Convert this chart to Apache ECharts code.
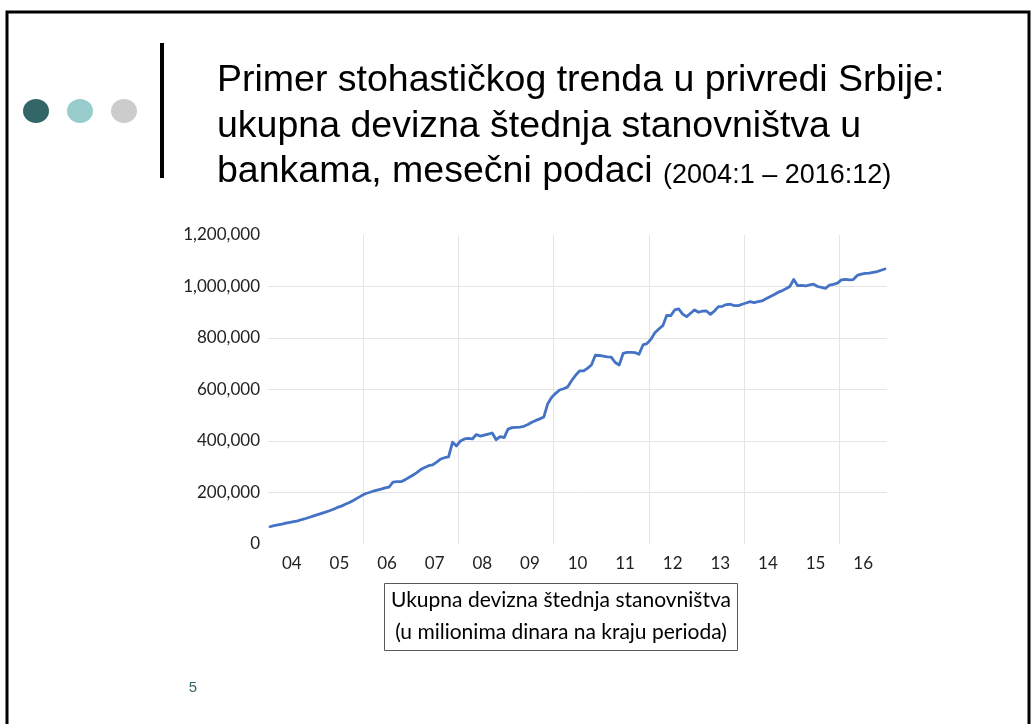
<!DOCTYPE html>
<html>
<head>
<meta charset="utf-8">
<script src="https://cdn.jsdelivr.net/npm/echarts@6/dist/echarts.min.js"></script>
<style>
  html, body { margin: 0; padding: 0; background: #fff; }
  #chart { width: 1034px; height: 724px; }
</style>
</head>
<body>
<div id="chart"></div>
<script>
  // godine na x osi
  var years = ['04', '05', '06', '07', '08', '09', '10', '11', '12', '13', '14', '15', '16'];

  // devizna stednja, mesecno, u hiljadama miliona dinara (ocitano sa grafika)
  var y2004 = [67, 71, 74, 77, 81, 84, 87, 90, 95, 99, 104, 109];
  var y2005 = [114, 119, 124, 129, 135, 142, 147, 154, 161, 169, 178, 187];
  var y2006 = [195, 200, 205, 209, 213, 218, 221, 240, 242, 242, 249, 258];
  var y2007 = [267, 277, 289, 297, 304, 307, 318, 330, 335, 338, 395, 381];
  var y2008 = [400, 408, 410, 408, 425, 419, 423, 427, 431, 405, 417, 413];
  var y2009 = [446, 452, 453, 454, 457, 464, 473, 480, 486, 493, 545, 570];
  var y2010 = [585, 598, 603, 610, 634, 655, 672, 672, 682, 695, 733, 732];
  var y2011 = [730, 727, 726, 705, 695, 740, 744, 744, 743, 737, 773, 778];
  var y2012 = [795, 820, 835, 848, 888, 887, 909, 913, 893, 883, 896, 909];
  var y2013 = [900, 904, 905, 892, 905, 922, 923, 930, 931, 926, 926, 931];
  var y2014 = [936, 941, 937, 941, 944, 952, 960, 968, 977, 983, 991, 1000];
  var y2015 = [1027, 1003, 1004, 1002, 1006, 1009, 1000, 997, 993, 1005, 1008, 1013];
  var y2016 = [1026, 1028, 1026, 1027, 1043, 1048, 1051, 1052, 1055, 1058, 1063, 1068];

  // podeoci y ose
  var yMin = 0, yMax = 1200000, yStep = 200000;

  var monthly = [].concat(y2004, y2005, y2006, y2007, y2008, y2009, y2010,
                          y2011, y2012, y2013, y2014, y2015, y2016);
  // tacka za svaki mesec u sredini meseca
  var seriesData = monthly.map(function (v, i) { return [i + 0.5, v * 1000]; });

  var titleFont = '37.5px "Liberation Sans"';
  // sirina prvog dela trece linije naslova, da bi zagrada stala odmah iza
  var ctx = document.createElement('canvas').getContext('2d');
  ctx.font = titleFont;
  var line3Width = ctx.measureText('bankama, mesečni podaci ').width;

  var myChart = echarts.init(document.getElementById('chart'));
  var option = {
    backgroundColor: '#fff',
    animation: false,
    grid: { left: 268, right: 147, top: 235, bottom: 180, containLabel: false },
    xAxis: [
      {
        type: 'value',
        min: 0,
        max: monthly.length,
        interval: 24,
        axisLine: { show: false },
        axisTick: { show: false },
        axisLabel: { show: false },
        splitLine: {
          show: true,
          showMinLine: false,
          showMaxLine: false,
          lineStyle: { color: '#e4e4e4', width: 1 }
        }
      },
      {
        type: 'category',
        data: years,
        position: 'bottom',
        boundaryGap: true,
        axisLine: { show: false },
        axisTick: { show: false },
        splitLine: { show: false },
        axisLabel: { margin: 11, fontFamily: 'Lato', fontSize: 17, color: '#222' }
      }
    ],
    yAxis: {
      type: 'value',
      min: yMin,
      max: yMax,
      interval: yStep,
      axisLine: { show: false },
      axisTick: { show: false },
      axisLabel: {
        margin: 8,
        fontFamily: 'Lato',
        fontSize: 17,
        color: '#222',
        formatter: function (v) { return v.toLocaleString('en-US'); }
      },
      splitLine: {
        show: true,
        showMinLine: false,
        showMaxLine: false,
        lineStyle: { color: '#e4e4e4', width: 1 }
      }
    },
    series: [
      {
        name: 'Ukupna devizna štednja stanovništva',
        type: 'line',
        xAxisIndex: 0,
        data: seriesData,
        symbol: 'none',
        lineStyle: { color: '#4472c4', width: 2.8, cap: 'round', join: 'round' }
      }
    ],
    graphic: [
      { type: 'rect', silent: true, shape: { x: 7, y: 12, width: 1022, height: 740 },
        style: { fill: 'none', stroke: '#000', lineWidth: 3 } },
      { type: 'ellipse', silent: true, shape: { cx: 36, cy: 111, rx: 13, ry: 12 }, style: { fill: '#336666' } },
      { type: 'ellipse', silent: true, shape: { cx: 80, cy: 111, rx: 13, ry: 12 }, style: { fill: '#99cccc' } },
      { type: 'ellipse', silent: true, shape: { cx: 124, cy: 111, rx: 13, ry: 12 }, style: { fill: '#cccccc' } },
      { type: 'line', silent: true, shape: { x1: 162, y1: 43, x2: 162, y2: 178 },
        style: { stroke: '#000', lineWidth: 4 } },
      { type: 'text', silent: true, x: 217, y: 81,
        style: { text: 'Primer stohastičkog trenda u privredi Srbije:', font: titleFont,
                 fill: '#000', verticalAlign: 'middle' } },
      { type: 'text', silent: true, x: 217, y: 127,
        style: { text: 'ukupna devizna štednja stanovništva u', font: titleFont,
                 fill: '#000', verticalAlign: 'middle' } },
      { type: 'text', silent: true, x: 217, y: 172,
        style: { text: 'bankama, mesečni podaci ', font: titleFont,
                 fill: '#000', verticalAlign: 'middle' } },
      { type: 'text', silent: true, x: 217 + line3Width, y: 176,
        style: { text: '(2004:1 – 2016:12)', font: '27px "Liberation Sans"',
                 fill: '#000', verticalAlign: 'middle' } },
      { type: 'rect', silent: true, shape: { x: 384.5, y: 583.5, width: 353, height: 67 },
        style: { fill: 'none', stroke: '#595959', lineWidth: 1 } },
      { type: 'text', silent: true, x: 561, y: 600,
        style: { text: 'Ukupna devizna štednja stanovništva', font: '21px Lato',
                 fill: '#000', align: 'center', verticalAlign: 'middle' } },
      { type: 'text', silent: true, x: 561, y: 632,
        style: { text: '(u milionima dinara na kraju perioda)', font: '21px Lato',
                 fill: '#000', align: 'center', verticalAlign: 'middle' } },
      { type: 'text', silent: true, x: 193, y: 688,
        style: { text: '5', font: '15px "Liberation Sans"', fill: '#336666',
                 align: 'center', verticalAlign: 'middle' } }
    ]
  };
  myChart.setOption(option);
</script>
</body>
</html>
